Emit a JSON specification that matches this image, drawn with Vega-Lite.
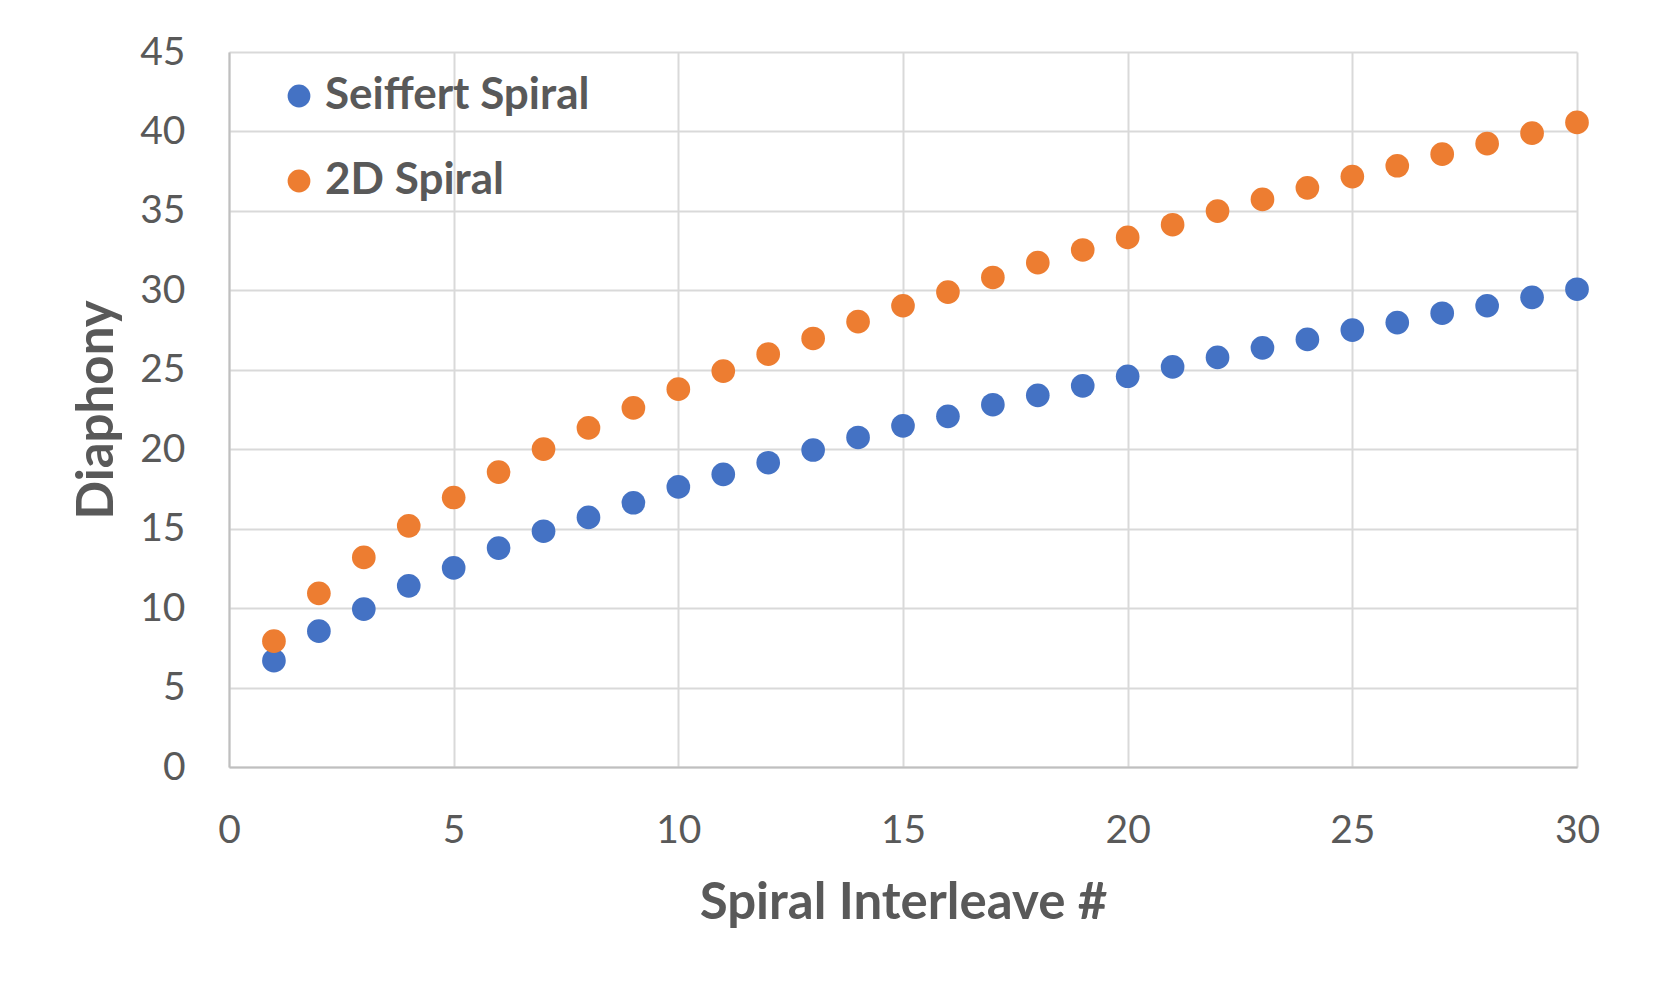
{
  "$schema": "https://vega.github.io/schema/vega-lite/v6.json",
  "width": 1348,
  "height": 715,
  "autosize": {"type": "none"},
  "padding": {"left": 229, "top": 52, "right": 76, "bottom": 226},
  "background": "white",
  "config": {
    "font": "Lato",
    "view": {"stroke": null},
    "axis": {
      "labelFont": "Lato",
      "labelFontSize": 39,
      "labelColor": "#595959",
      "labelFlush": false,
      "labelOverlap": false,
      "titleFont": "Lato",
      "titleFontWeight": "bold",
      "titleFontSize": 51,
      "titleColor": "#595959",
      "gridColor": "#d9d9d9",
      "gridWidth": 2,
      "domainColor": "#bfbfbf",
      "domainWidth": 2,
      "ticks": false,
      "tickSize": 0
    }
  },
  "data": {
    "values": [
      {"x": 1, "series": "Seiffert Spiral", "value": 6.69},
      {"x": 2, "series": "Seiffert Spiral", "value": 8.55},
      {"x": 3, "series": "Seiffert Spiral", "value": 9.94},
      {"x": 4, "series": "Seiffert Spiral", "value": 11.4},
      {"x": 5, "series": "Seiffert Spiral", "value": 12.53},
      {"x": 6, "series": "Seiffert Spiral", "value": 13.78},
      {"x": 7, "series": "Seiffert Spiral", "value": 14.84},
      {"x": 8, "series": "Seiffert Spiral", "value": 15.71},
      {"x": 9, "series": "Seiffert Spiral", "value": 16.63},
      {"x": 10, "series": "Seiffert Spiral", "value": 17.63},
      {"x": 11, "series": "Seiffert Spiral", "value": 18.42},
      {"x": 12, "series": "Seiffert Spiral", "value": 19.15},
      {"x": 13, "series": "Seiffert Spiral", "value": 19.95},
      {"x": 14, "series": "Seiffert Spiral", "value": 20.74},
      {"x": 15, "series": "Seiffert Spiral", "value": 21.47},
      {"x": 16, "series": "Seiffert Spiral", "value": 22.07},
      {"x": 17, "series": "Seiffert Spiral", "value": 22.8},
      {"x": 18, "series": "Seiffert Spiral", "value": 23.39},
      {"x": 19, "series": "Seiffert Spiral", "value": 23.99},
      {"x": 20, "series": "Seiffert Spiral", "value": 24.59},
      {"x": 21, "series": "Seiffert Spiral", "value": 25.18},
      {"x": 22, "series": "Seiffert Spiral", "value": 25.78},
      {"x": 23, "series": "Seiffert Spiral", "value": 26.38},
      {"x": 24, "series": "Seiffert Spiral", "value": 26.91},
      {"x": 25, "series": "Seiffert Spiral", "value": 27.5},
      {"x": 26, "series": "Seiffert Spiral", "value": 27.97},
      {"x": 27, "series": "Seiffert Spiral", "value": 28.56},
      {"x": 28, "series": "Seiffert Spiral", "value": 29.03},
      {"x": 29, "series": "Seiffert Spiral", "value": 29.56},
      {"x": 30, "series": "Seiffert Spiral", "value": 30.07},
      {"x": 1, "series": "2D Spiral", "value": 7.92},
      {"x": 2, "series": "2D Spiral", "value": 10.93},
      {"x": 3, "series": "2D Spiral", "value": 13.19},
      {"x": 4, "series": "2D Spiral", "value": 15.18},
      {"x": 5, "series": "2D Spiral", "value": 16.96},
      {"x": 6, "series": "2D Spiral", "value": 18.56},
      {"x": 7, "series": "2D Spiral", "value": 20.01},
      {"x": 8, "series": "2D Spiral", "value": 21.34},
      {"x": 9, "series": "2D Spiral", "value": 22.6},
      {"x": 10, "series": "2D Spiral", "value": 23.78},
      {"x": 11, "series": "2D Spiral", "value": 24.92},
      {"x": 12, "series": "2D Spiral", "value": 25.98},
      {"x": 13, "series": "2D Spiral", "value": 26.97},
      {"x": 14, "series": "2D Spiral", "value": 28.03},
      {"x": 15, "series": "2D Spiral", "value": 29.03},
      {"x": 16, "series": "2D Spiral", "value": 29.89},
      {"x": 17, "series": "2D Spiral", "value": 30.81},
      {"x": 18, "series": "2D Spiral", "value": 31.74},
      {"x": 19, "series": "2D Spiral", "value": 32.54},
      {"x": 20, "series": "2D Spiral", "value": 33.33},
      {"x": 21, "series": "2D Spiral", "value": 34.13},
      {"x": 22, "series": "2D Spiral", "value": 34.99},
      {"x": 23, "series": "2D Spiral", "value": 35.72},
      {"x": 24, "series": "2D Spiral", "value": 36.45},
      {"x": 25, "series": "2D Spiral", "value": 37.16},
      {"x": 26, "series": "2D Spiral", "value": 37.84},
      {"x": 27, "series": "2D Spiral", "value": 38.57},
      {"x": 28, "series": "2D Spiral", "value": 39.23},
      {"x": 29, "series": "2D Spiral", "value": 39.89},
      {"x": 30, "series": "2D Spiral", "value": 40.57}
    ]
  },
  "mark": {"type": "circle", "size": 560, "opacity": 1},
  "encoding": {
    "x": {
      "field": "x",
      "type": "quantitative",
      "scale": {"domain": [0, 30], "nice": false},
      "axis": {
        "title": "Spiral Interleave #",
        "values": [0, 5, 10, 15, 20, 25, 30],
        "labelBaseline": "alphabetic",
        "labelPadding": 75,
        "titleBaseline": "alphabetic",
        "titleY": 151,
        "titleX": 674,
        "titleAlign": "center"
      }
    },
    "y": {
      "field": "value",
      "type": "quantitative",
      "scale": {"domain": [0, 45], "nice": false},
      "axis": {
        "title": "Diaphony",
        "values": [0, 5, 10, 15, 20, 25, 30, 35, 40, 45],
        "labelPadding": 44,
        "labelBaseline": "middle",
        "titleAngle": 270,
        "titleBaseline": "alphabetic",
        "titleAlign": "center",
        "titleX": -117,
        "titleY": 357.5
      }
    },
    "color": {
      "field": "series",
      "type": "nominal",
      "sort": null,
      "scale": {"domain": ["Seiffert Spiral", "2D Spiral"], "range": ["#4472C4", "#ED7D31"]},
      "legend": {
        "title": null,
        "orient": "none",
        "legendX": 48,
        "legendY": 22,
        "padding": 0,
        "symbolType": "circle",
        "symbolSize": 520,
        "symbolStrokeWidth": 0,
        "symbolOpacity": 1,
        "labelFont": "Lato",
        "labelFontSize": 44,
        "labelFontWeight": "bold",
        "labelColor": "#595959",
        "labelOffset": 4,
        "rowPadding": 41,
        "labelLimit": 600
      }
    },
    "order": {"field": "x", "type": "quantitative"}
  }
}
